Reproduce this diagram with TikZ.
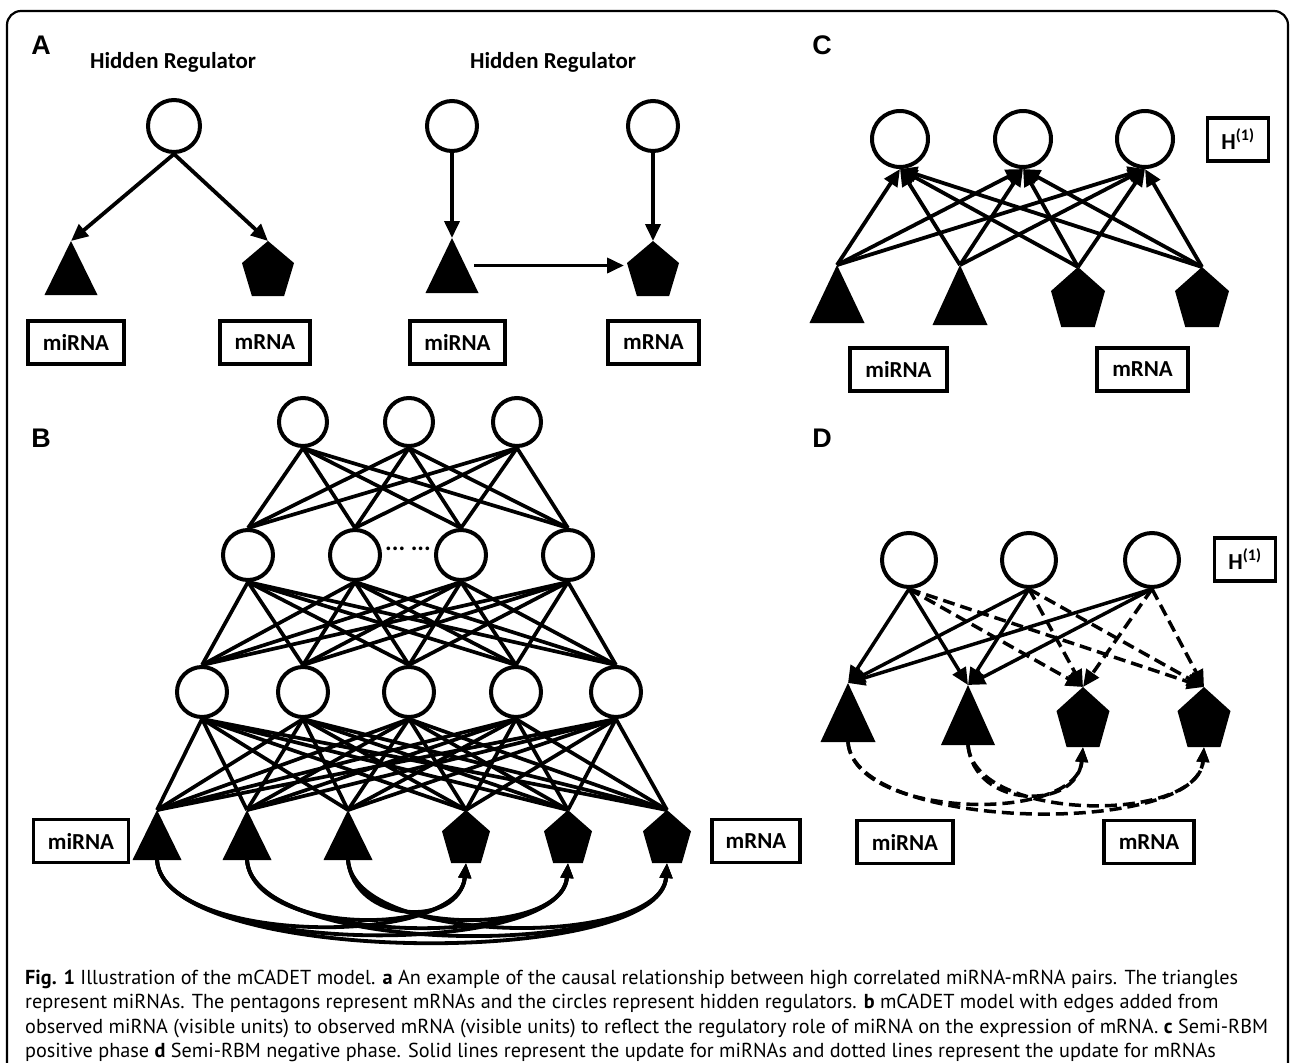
\documentclass[tikz,border=0pt]{standalone}
\usepackage{fontspec}
\setmainfont{Carlito}
\newfontfamily\letterfont{Liberation Sans}
\newfontfamily\capfont{PT Sans}
\usetikzlibrary{arrows.meta}

\tikzset{
  hid/.style={circle, draw, line width=4bp, inner sep=0pt, minimum size=#1},
  hid/.default=50bp,
  lbl/.style={draw, line width=3.2bp, inner sep=0pt, minimum height=43bp,
    minimum width=#1, font=\bfseries\fontsize{23}{24}\selectfont},
  lbl/.default=96bp,
  hbox/.style={draw, line width=3.2bp, inner sep=0pt, minimum height=43bp,
    minimum width=61bp, font=\bfseries\fontsize{23}{24}\selectfont},
  hr/.style={font=\bfseries\fontsize{23}{26}\selectfont},
  panel/.style={font=\letterfont\bfseries\fontsize{27}{28}\selectfont},
  captext/.style={font=\capfont\fontsize{20.3}{24}\selectfont, inner sep=0pt},
  arr/.style={line width=3.8bp, -{Triangle[length=17bp,width=15bp]}},
  web/.style={line width=3.7bp},
  dsh/.style={dash pattern=on 12bp off 6bp},
  arcb/.style={line width=3.8bp, -{Triangle[length=15bp,width=12bp]}},
  pics/mir/.style args={#1/#2}{code={
    \fill (0,0) -- (#1/2,#2) -- (-#1/2,#2) -- cycle;
    \coordinate (-t) at (0,0);
    \coordinate (-m) at (0,#2/2);
    \coordinate (-b) at (0,#2);}},
  pics/mr/.style args={#1/#2}{code={
    \fill (0,0) -- (#1/2,0.4*#2) -- (0.31*#1,#2) -- (-0.31*#1,#2)
      -- (-#1/2,0.4*#2) -- cycle;
    \coordinate (-t) at (0,0);
    \coordinate (-l) at (-#1/2,0.4*#2);
    \coordinate (-b) at (0,#2);}}
}

\begin{document}
\begin{tikzpicture}[x=1bp, y=-1bp]
\useasboundingbox (0,0) rectangle (1292,1063);

% ---- outer frame ----
\draw[line width=2.2bp, rounded corners=14bp]
  (7,1068) -- (7,11) -- (1288,11) -- (1288,1068);

% ---- panel A ----
\node[panel] (la) at (41,45) {A};
\node[hr, anchor=base] (hra) at (173,68) {Hidden Regulator};
\node[hr, anchor=base] (hrb) at (553,68) {Hidden Regulator};

\node[hid=52bp] (a1) at (174,126) {};
\node[hid=50bp] (a2) at (452,126) {};
\node[hid=50bp] (a3) at (653,126) {};

\pic (ta1) at (71,241)  {mir=53/54};
\pic (pa1) at (268,241) {mr=52/55};
\pic (ta2) at (452,238) {mir=53/55};
\pic (pa2) at (653,241) {mr=52/55};

\draw[arr] (a1.south) -- (ta1-t);
\draw[arr] (a1.south) -- (pa1-t);
\draw[arr] (a2.south) -- (ta2-t);
\draw[arr] (a3.south) -- (pa2-t);
\draw[arr] ([xshift=22bp]ta2-m) -- ([xshift=-3bp]ta2-m -| pa2-l);

\node[lbl]       (ma1) at (76,342.5)    {miRNA};
\node[lbl=90bp]  (ra1) at (265,342.5)   {mRNA};
\node[lbl=95bp]  (ma2) at (457.5,342.5) {miRNA};
\node[lbl=91bp]  (ra2) at (653.5,342.5) {mRNA};

% ---- panel C ----
\node[panel] (lc) at (822,45) {C};
\node[hid=56bp] (c1) at (900,139)  {};
\node[hid=56bp] (c2) at (1023,139) {};
\node[hid=56bp] (c3) at (1145,139) {};
\node[hbox] (hc) at (1238,139.5) {H\textsuperscript{(1)}};

\pic (tc1) at (837,265)  {mir=55/58};
\pic (tc2) at (960,265)  {mir=55/60};
\pic (pc1) at (1078,267) {mr=54/60};
\pic (pc2) at (1202,267) {mr=54/60};

\foreach \v in {tc1,tc2,pc1,pc2}
  \foreach \h in {c1,c2,c3}
    \draw[arr] (\v-t) -- (\h.south);

\node[lbl=97bp] (mc) at (898.5,369.5)  {miRNA};
\node[lbl=91bp] (rc) at (1142.5,369.5) {mRNA};

% ---- panel B ----
\node[panel] (lb) at (41,438) {B};
\foreach \n/\x in {1/303,2/409,3/517}
  \node[hid=48bp] (bt\n) at (\x,422) {};
\foreach \n/\x in {1/248,2/355,3/461,4/568}
  \node[hid=50bp] (bm\n) at (\x,555) {};
\foreach \n/\x in {1/202,2/303,3/409,4/516,5/616}
  \node[hid=50bp] (bl\n) at (\x,692) {};
\node[font=\bfseries\fontsize{25}{25}\selectfont] (dots) at (408,549) {...\ ...};

\foreach \n/\x in {1/157,2/247,3/348}
  \pic (vb\n) at (\x,810) {mir=49/50};
\foreach \n/\x in {4/466,5/568,6/667}
  \pic (vb\n) at (\x,810) {mr=48/53};

\foreach \i in {1,2,3}
  \foreach \j in {1,...,4}
    \draw[web] (bt\i.south) -- (bm\j.north);
\foreach \i in {1,...,4}
  \foreach \j in {1,...,5}
    \draw[web] (bm\i.south) -- (bl\j.north);
\foreach \i in {1,...,5}
  \foreach \j in {1,...,6}
    \draw[web] (bl\i.south) -- (vb\j-t);

% miRNA -> mRNA edges
\foreach \i/\xi in {1/157,2/247,3/348}
  \foreach \j/\xj in {4/466,5/568,6/667} {
    \pgfmathsetmacro\cc{(39+0.08*(\xj-\xi))/0.75}
    \draw[arcb] (vb\i-b) .. controls +(6,\cc) and +(-6,\cc) .. (vb\j-b);
  }

\node[lbl=95bp] (mb) at (81,841)  {miRNA};
\node[lbl=88bp] (rb) at (756,841) {mRNA};

% ---- panel D ----
\node[panel] (ld) at (822,438) {D};
\node[hid=54bp] (d1) at (909,560)  {};
\node[hid=54bp] (d2) at (1029,560) {};
\node[hid=54bp] (d3) at (1152,560) {};
\node[hbox] (hd) at (1245,559.5) {H\textsuperscript{(1)}};

\pic (td1) at (848,683)  {mir=55/59};
\pic (td2) at (968,685)  {mir=54/60};
\pic (pd1) at (1083,687) {mr=53/60};
\pic (pd2) at (1204,687) {mr=53/60};

\foreach \h in {d1,d2,d3} {
  \foreach \v in {td1,td2}
    \draw[arr, line width=3.5bp] (\h.south) -- (\v-t);
  \foreach \v in {pd1,pd2}
    \draw[arr, dsh, line width=3.5bp] (\h.south) -- (\v-t);
}
\foreach \i/\xi in {td1/848,td2/968}
  \foreach \j/\xj in {pd1/1083,pd2/1204} {
    \pgfmathsetmacro\cc{(39+0.08*(\xj-\xi))/0.75}
    \draw[arcb, dsh, line width=3.5bp] (\i-b) .. controls +(6,\cc) and +(-6,\cc) .. (\j-b);
  }

\node[lbl=96bp] (md) at (905,842)  {miRNA};
\node[lbl=90bp] (rd) at (1149,842) {mRNA};

% ---- caption ----
\node[captext, anchor=base west] (cap1) at (25,984)
  {\textbf{Fig. 1} Illustration of the mCADET model. \textbf{a} An example of the causal relationship between high correlated miRNA-mRNA pairs. The triangles};
\node[captext, anchor=base west] (cap2) at (25,1008.5)
  {represent miRNAs. The pentagons represent mRNAs and the circles represent hidden regulators. \textbf{b} mCADET model with edges added from};
\node[captext, anchor=base west] (cap3) at (25,1033)
  {observed miRNA (visible units) to observed mRNA (visible units) to reflect the regulatory role of miRNA on the expression of mRNA. \textbf{c} Semi-RBM};
\node[captext, anchor=base west] (cap4) at (25,1057.5)
  {positive phase \textbf{d} Semi-RBM negative phase. Solid lines represent the update for miRNAs and dotted lines represent the update for mRNAs};
\end{tikzpicture}
\end{document}
